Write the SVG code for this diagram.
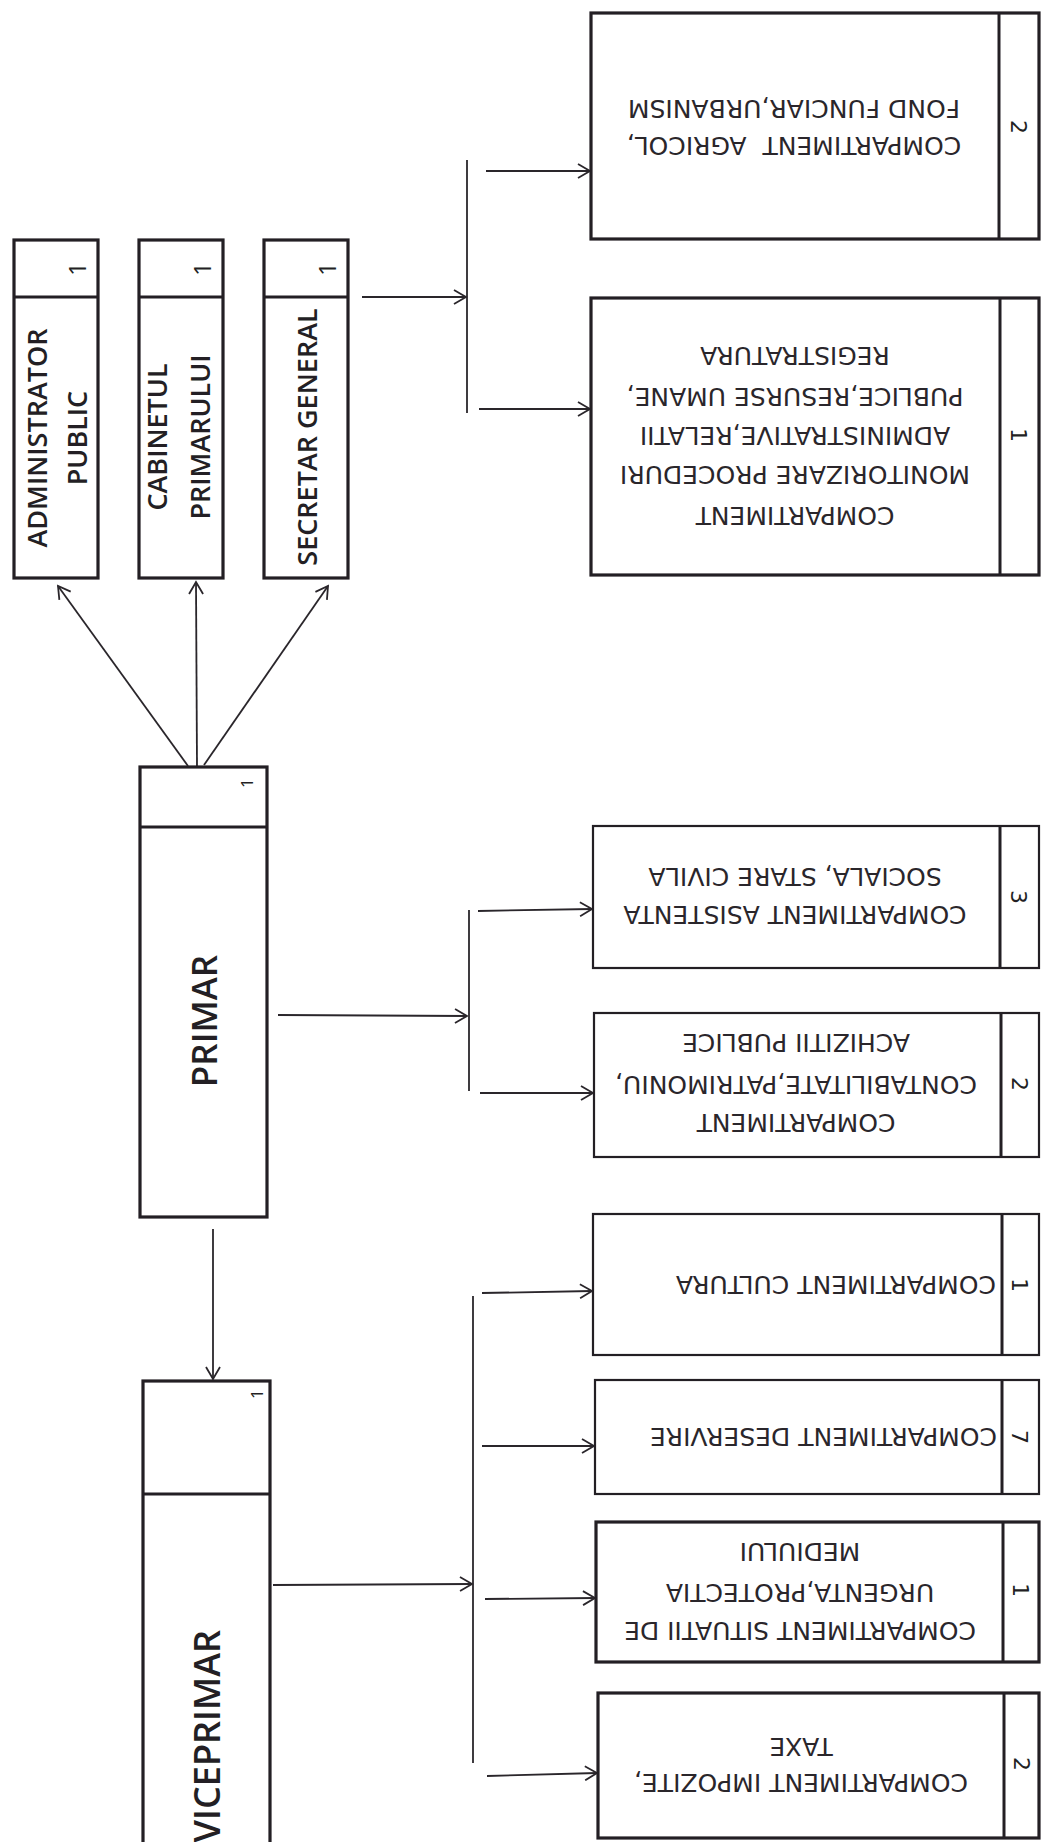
<svg xmlns="http://www.w3.org/2000/svg" width="1041" height="1842" viewBox="0 0 1041 1842">
<style>
.bg{fill:#ffffff}
.box{fill:#ffffff;stroke:#231f24;stroke-width:3.2}
.thin{fill:#ffffff;stroke:#231f24;stroke-width:2.2}
.div{stroke:#231f24;stroke-width:3;fill:none}
.con{stroke:#2a262b;stroke-width:1.8;fill:none}
.lt{font-family:"Open Sans","DejaVu Sans",sans-serif;font-size:27px;font-weight:600;fill:#231f24;text-anchor:middle}
.big{font-family:"Open Sans","DejaVu Sans",sans-serif;font-size:35px;font-weight:600;fill:#231f24;text-anchor:middle}
.vice{font-family:"Open Sans","DejaVu Sans",sans-serif;font-size:36px;font-weight:600;fill:#231f24;text-anchor:end}
.rt{font-family:"DejaVu Sans","Liberation Sans",sans-serif;font-size:25px;fill:#2a262b;text-anchor:middle;white-space:pre}
.rs{font-family:"DejaVu Sans","Liberation Sans",sans-serif;font-size:25px;fill:#2a262b;text-anchor:start}
.nl{font-family:"Open Sans","DejaVu Sans",sans-serif;font-size:24px;fill:#231f24;text-anchor:middle}
.ns{font-family:"Open Sans","DejaVu Sans",sans-serif;font-size:17px;fill:#231f24;text-anchor:middle}
.nr{font-family:"DejaVu Sans","Liberation Sans",sans-serif;font-size:22px;fill:#231f24;text-anchor:middle}
</style>
<defs>
<marker id="arr" markerUnits="userSpaceOnUse" markerWidth="16" markerHeight="16" refX="13" refY="8" orient="auto">
<path d="M1,1 L13,8 L1,15" fill="none" stroke="#2a262b" stroke-width="1.8"/>
</marker>
</defs>
<rect class="bg" x="0" y="0" width="1041" height="1842"/>

<g id="connectors">
<line class="con" x1="188" y1="766" x2="58" y2="586" marker-end="url(#arr)"/>
<line class="con" x1="197" y1="767" x2="196" y2="582" marker-end="url(#arr)"/>
<line class="con" x1="204" y1="765" x2="328" y2="586" marker-end="url(#arr)"/>
<line class="con" x1="213" y1="1229" x2="213" y2="1379" marker-end="url(#arr)"/>
<line class="con" x1="362" y1="297" x2="466" y2="297" marker-end="url(#arr)"/>
<line class="con" x1="467" y1="160" x2="467" y2="413"/>
<line class="con" x1="486" y1="171" x2="590" y2="171" marker-end="url(#arr)"/>
<line class="con" x1="479" y1="409" x2="590" y2="409" marker-end="url(#arr)"/>
<line class="con" x1="278" y1="1015" x2="467" y2="1016" marker-end="url(#arr)"/>
<line class="con" x1="469" y1="910" x2="469" y2="1091"/>
<line class="con" x1="478" y1="911" x2="592" y2="909" marker-end="url(#arr)"/>
<line class="con" x1="480" y1="1093" x2="593" y2="1093" marker-end="url(#arr)"/>
<line class="con" x1="273" y1="1585" x2="472" y2="1584" marker-end="url(#arr)"/>
<line class="con" x1="473" y1="1296" x2="473" y2="1763"/>
<line class="con" x1="482" y1="1293" x2="592" y2="1291" marker-end="url(#arr)"/>
<line class="con" x1="482" y1="1446" x2="594" y2="1446" marker-end="url(#arr)"/>
<line class="con" x1="485" y1="1599" x2="595" y2="1598" marker-end="url(#arr)"/>
<line class="con" x1="487" y1="1776" x2="597" y2="1773" marker-end="url(#arr)"/>
</g>

<g id="administrator">
<rect class="box" x="14" y="240" width="84" height="338"/>
<line class="div" x1="14" y1="297" x2="98" y2="297"/>
<text class="nl" x="86" y="269" transform="rotate(-90 86 269)">1</text>
<text class="lt" x="47" y="438" transform="rotate(-90 47 438)">ADMINISTRATOR</text>
<text class="lt" x="87" y="438" transform="rotate(-90 87 438)">PUBLIC</text>
</g>

<g id="cabinet">
<rect class="box" x="139" y="240" width="84" height="338"/>
<line class="div" x1="139" y1="297" x2="223" y2="297"/>
<text class="nl" x="211" y="269" transform="rotate(-90 211 269)">1</text>
<text class="lt" x="167" y="437" transform="rotate(-90 167 437)">CABINETUL</text>
<text class="lt" x="210" y="437" transform="rotate(-90 210 437)">PRIMARULUI</text>
</g>

<g id="secretar">
<rect class="box" x="264" y="240" width="84" height="338"/>
<line class="div" x1="264" y1="297" x2="348" y2="297"/>
<text class="nl" x="336" y="269" transform="rotate(-90 336 269)">1</text>
<text class="lt" x="317" y="437" transform="rotate(-90 317 437)">SECRETAR GENERAL</text>
</g>

<g id="primar">
<rect class="box" x="140" y="767" width="127" height="450"/>
<line class="div" x1="140" y1="827" x2="267" y2="827"/>
<text class="ns" x="253" y="783" transform="rotate(-90 253 783)">1</text>
<text class="big" x="217" y="1021" transform="rotate(-90 217 1021)">PRIMAR</text>
</g>

<g id="viceprimar">
<rect class="box" x="143" y="1381" width="127" height="480"/>
<line class="div" x1="143" y1="1494" x2="270" y2="1494"/>
<text class="ns" x="263" y="1394" transform="rotate(-90 263 1394)">1</text>
<text class="vice" x="220" y="1630" transform="rotate(-90 220 1630)">VICEPRIMAR</text>
</g>

<g id="agricol">
<rect class="box" x="591" y="13" width="448" height="226"/>
<line class="div" x1="999" y1="13" x2="999" y2="239"/>
<text class="nr" x="1011" y="127" transform="rotate(90 1011 127)">2</text>
<text class="rt" x="794" y="137" transform="rotate(180 794 137)">COMPARTIMENT  AGRICOL,</text>
<text class="rt" x="794" y="100" transform="rotate(180 794 100)">FOND FUNCIAR,URBANISM</text>
</g>

<g id="monitorizare">
<rect class="box" x="591" y="298" width="448" height="277"/>
<line class="div" x1="1000" y1="298" x2="1000" y2="575"/>
<text class="nr" x="1011" y="435" transform="rotate(90 1011 435)">1</text>
<text class="rt" x="795" y="507" transform="rotate(180 795 507)">COMPARTIMENT</text>
<text class="rt" x="795" y="466" transform="rotate(180 795 466)">MONITORIZARE PROCEDURI</text>
<text class="rt" x="795" y="427" transform="rotate(180 795 427)">ADMINISTRATIVE,RELATII</text>
<text class="rt" x="795" y="388" transform="rotate(180 795 388)">PUBLICE,RESURSE UMANE,</text>
<text class="rt" x="795" y="347" transform="rotate(180 795 347)">REGISTRATURA</text>
</g>

<g id="asistenta">
<rect class="thin" x="593" y="826" width="446" height="142"/>
<line class="div" x1="1000" y1="826" x2="1000" y2="968"/>
<text class="nr" x="1011" y="897" transform="rotate(90 1011 897)">3</text>
<text class="rt" x="795" y="906" transform="rotate(180 795 906)">COMPARTIMENT ASISTENTA</text>
<text class="rt" x="795" y="868" transform="rotate(180 795 868)">SOCIALA, STARE CIVILA</text>
</g>

<g id="contabilitate">
<rect class="thin" x="594" y="1013" width="445" height="144"/>
<line class="div" x1="1001" y1="1013" x2="1001" y2="1157"/>
<text class="nr" x="1012" y="1084" transform="rotate(90 1012 1084)">2</text>
<text class="rt" x="796" y="1114" transform="rotate(180 796 1114)">COMPARTIMENT</text>
<text class="rt" x="796" y="1076" transform="rotate(180 796 1076)">CONTABILITATE,PATRIMONIU,</text>
<text class="rt" x="796" y="1034" transform="rotate(180 796 1034)">ACHIZITII PUBLICE</text>
</g>

<g id="cultura">
<rect class="thin" x="593" y="1214" width="446" height="141"/>
<line class="div" x1="1002" y1="1214" x2="1002" y2="1355"/>
<text class="nr" x="1012" y="1285" transform="rotate(90 1012 1285)">1</text>
<text class="rs" x="996" y="1276" transform="rotate(180 996 1276)">COMPARTIMENT CULTURA</text>
</g>

<g id="deservire">
<rect class="thin" x="595" y="1380" width="444" height="114"/>
<line class="div" x1="1002" y1="1380" x2="1002" y2="1494"/>
<text class="nr" x="1012" y="1437" transform="rotate(90 1012 1437)">7</text>
<text class="rs" x="997" y="1428" transform="rotate(180 997 1428)">COMPARTIMENT DESERVIRE</text>
</g>

<g id="situatii">
<rect class="box" x="596" y="1522" width="443" height="140"/>
<line class="div" x1="1003" y1="1522" x2="1003" y2="1662"/>
<text class="nr" x="1013" y="1590" transform="rotate(90 1013 1590)">1</text>
<text class="rt" x="800" y="1622" transform="rotate(180 800 1622)">COMPARTIMENT SITUATII DE</text>
<text class="rt" x="800" y="1584" transform="rotate(180 800 1584)">URGENTA,PROTECTIA</text>
<text class="rt" x="800" y="1543" transform="rotate(180 800 1543)">MEDIULUI</text>
</g>

<g id="impozite">
<rect class="box" x="598" y="1693" width="441" height="145"/>
<line class="div" x1="1004" y1="1693" x2="1004" y2="1838"/>
<text class="nr" x="1014" y="1764" transform="rotate(90 1014 1764)">2</text>
<text class="rt" x="801" y="1774" transform="rotate(180 801 1774)">COMPARTIMENT IMPOZITE,</text>
<text class="rt" x="801" y="1738" transform="rotate(180 801 1738)">TAXE</text>
</g>
</svg>
